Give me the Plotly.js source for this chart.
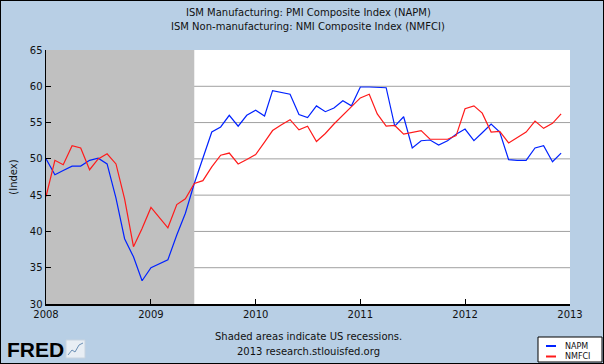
<!DOCTYPE html>
<html>
<head>
<meta charset="utf-8">
<script src="https://cdn.plot.ly/plotly-3.0.1.min.js"></script>
<style>
  html, body { margin: 0; padding: 0; background: #B8CFE5; }
  #wrap { position: relative; width: 604px; height: 364px; }
  #chart { position: absolute; left: 0; top: 0; width: 604px; height: 364px; }
  #frame { position: absolute; left: 0; top: 0; width: 604px; height: 364px; box-sizing: border-box; border: 1px solid #000; pointer-events: none; }
</style>
</head>
<body>
<div id="wrap"><div id="chart"></div><div id="frame"></div></div>
<script>
// Monthly observations, Jan 2008 - Dec 2012
const years = [2008, 2009, 2010, 2011, 2012];
const napm = [
  50.0, 47.8, 48.4, 49.0, 49.0, 49.8, 50.1, 49.3, 44.6, 39.0, 36.5, 33.2,
  35.0, 35.6, 36.1, 39.5, 42.5, 46.6, 50.1, 53.7, 54.4, 56.0, 54.5, 56.0,
  56.7, 55.9, 59.4, 59.1, 58.9, 56.1, 55.7, 57.3, 56.5, 57.0, 58.0, 57.3,
  59.9, 59.9, 59.9, 59.8, 54.5, 55.8, 51.5, 52.5, 52.6, 51.9, 52.5, 53.4,
  54.1, 52.5, 53.6, 54.8, 53.7, 49.9, 49.8, 49.8, 51.5, 51.8, 49.6, 50.8
];
const nmfci = [
  44.8, 49.8, 49.2, 51.8, 51.5, 48.5, 50.0, 50.7, 49.3, 44.5, 37.9, 40.4,
  43.3, 41.9, 40.5, 43.7, 44.5, 46.6, 47.0, 48.9, 50.5, 50.8, 49.3, 49.9,
  50.6, 52.3, 53.9, 54.7, 55.4, 54.0, 54.5, 52.4, 53.5, 54.8, 56.0, 57.1,
  58.4, 58.9, 56.2, 54.5, 54.6, 53.4, 53.6, 53.9, 52.7, 52.7, 52.7, 53.2,
  56.9, 57.3, 56.3, 53.7, 53.8, 52.2, 52.9, 53.7, 55.2, 54.2, 54.9, 56.2
];
const seriesNames = ['NAPM', 'NMFCI'];
const seriesColors = ['#0022ff', '#ff1a1a'];
const titleLines = ['ISM Manufacturing: PMI Composite Index (NAPM)', 'ISM Non-manufacturing: NMI Composite Index (NMFCI)'];
const recessionStart = '2008-01-01';
const recessionEnd = '2009-06-01';
const xTickVals = ['2008-01-01', '2009-01-01', '2010-01-01', '2011-01-01', '2012-01-01', '2013-01-01'];
const xTickText = ['2008', '2009', '2010', '2011', '2012', '2013'];
const yTickVals = [30, 35, 40, 45, 50, 55, 60, 65];

const dates = [];
years.forEach(y => {
  for (let m = 1; m <= 12; m++) dates.push(y + '-' + (m < 10 ? '0' + m : m) + '-01');
});

const FONT = 'DejaVu Sans, Verdana, sans-serif';
// plot area in pixels
const L = 46, T = 50, W = 524, H = 254;
const px = x => (x - L) / W;
const py = y => (T + H - y) / H;

const traces = [
  { x: dates, y: napm, name: seriesNames[0], type: 'scatter', mode: 'lines',
    line: { color: seriesColors[0], width: 1.2 } },
  { x: dates, y: nmfci, name: seriesNames[1], type: 'scatter', mode: 'lines',
    line: { color: seriesColors[1], width: 1.2 } }
];

const shapes = [];
yTickVals.filter(v => v > yTickVals[0] && v < yTickVals[yTickVals.length - 1]).forEach(v => {
  shapes.push({ type: 'line', xref: 'paper', yref: 'y', x0: 0, x1: 1, y0: v, y1: v,
    line: { color: '#a0a0a0', width: 1 }, layer: 'between' });
});
shapes.push({ type: 'rect', xref: 'x', yref: 'paper', x0: recessionStart, x1: recessionEnd, y0: 0, y1: 1,
  fillcolor: '#c0c0c0', line: { width: 0 }, layer: 'between' });

// FRED logo icon box
shapes.push({ type: 'rect', xref: 'paper', yref: 'paper',
  x0: px(66), x1: px(85), y0: py(358), y1: py(340),
  fillcolor: '#e8eef4', line: { color: '#c8d4e0', width: 1 }, layer: 'above' });
shapes.push({ type: 'path', xref: 'paper', yref: 'paper',
  path: 'M ' + px(68) + ' ' + py(355) + ' L ' + px(72) + ' ' + py(350) + ' L ' + px(75) + ' ' + py(352) +
        ' L ' + px(79) + ' ' + py(345) + ' L ' + px(83) + ' ' + py(343),
  line: { color: '#6a8fb5', width: 1 }, layer: 'above' });

// legend box (drawn manually to match compact size)
shapes.push({ type: 'rect', xref: 'paper', yref: 'paper',
  x0: px(538), x1: px(602), y0: py(362), y1: py(337),
  fillcolor: '#ffffff', line: { color: '#000', width: 1 }, layer: 'above' });
const legendRows = [346, 356.5];
const annotations = [];
seriesNames.forEach((n, i) => {
  shapes.push({ type: 'line', xref: 'paper', yref: 'paper',
    x0: px(546), x1: px(556), y0: py(legendRows[i]), y1: py(legendRows[i]),
    line: { color: seriesColors[i], width: 2 }, layer: 'above' });
  annotations.push({ text: n, xref: 'paper', yref: 'paper', x: px(563), y: py(legendRows[i]),
    xanchor: 'left', yanchor: 'middle', showarrow: false,
    font: { family: FONT, size: 8, color: '#111' } });
});

[12, 27].forEach((yy, i) => {
  annotations.push({ text: titleLines[i], xref: 'paper', yref: 'paper', x: 0.5, y: py(yy),
    xanchor: 'center', yanchor: 'middle', showarrow: false,
    font: { family: FONT, size: 10, color: '#111' } });
});
annotations.push(
  { text: 'Shaded areas indicate US recessions.', xref: 'paper', yref: 'paper',
    x: 0.5, y: py(336), xanchor: 'center', yanchor: 'middle', showarrow: false,
    font: { family: FONT, size: 10, color: '#111' } },
  { text: '2013 research.stlouisfed.org', xref: 'paper', yref: 'paper',
    x: 0.5, y: py(351), xanchor: 'center', yanchor: 'middle', showarrow: false,
    font: { family: FONT, size: 10, color: '#111' } },
  { text: '<b>FRED</b>', xref: 'paper', yref: 'paper',
    x: px(5), y: py(349), xanchor: 'left', yanchor: 'middle', showarrow: false,
    font: { family: 'Liberation Sans, Arial, sans-serif', size: 21, color: '#000' } }
);

const layout = {
  width: 604, height: 364,
  margin: { l: L, r: 604 - L - W, t: T, b: 364 - T - H, pad: 0, autoexpand: false },
  paper_bgcolor: '#B8CFE5',
  plot_bgcolor: '#ffffff',
  font: { family: FONT, size: 10, color: '#111' },
  showlegend: false,
  xaxis: {
    type: 'date',
    range: [xTickVals[0], xTickVals[xTickVals.length - 1]],
    tickmode: 'array', tickvals: xTickVals, ticktext: xTickText,
    ticks: 'inside', ticklen: 5, tickcolor: '#000', tickwidth: 1,
    showline: true, linecolor: '#000', linewidth: 1.5,
    showgrid: false, zeroline: false,
    tickfont: { family: FONT, size: 10, color: '#111' },
    fixedrange: true
  },
  yaxis: {
    range: [yTickVals[0], yTickVals[yTickVals.length - 1]],
    tickmode: 'array', tickvals: yTickVals,
    ticks: 'inside', ticklen: 5, tickcolor: '#000', tickwidth: 1,
    showline: true, linecolor: '#000', linewidth: 1.5,
    showgrid: false, zeroline: false,
    tickfont: { family: FONT, size: 10, color: '#111' },
    title: { text: '(Index)', font: { family: FONT, size: 10, color: '#111' }, standoff: 10 },
    fixedrange: true
  },
  shapes: shapes,
  annotations: annotations
};

Plotly.newPlot('chart', traces, layout, { displayModeBar: false, staticPlot: true });
</script>
</body>
</html>
